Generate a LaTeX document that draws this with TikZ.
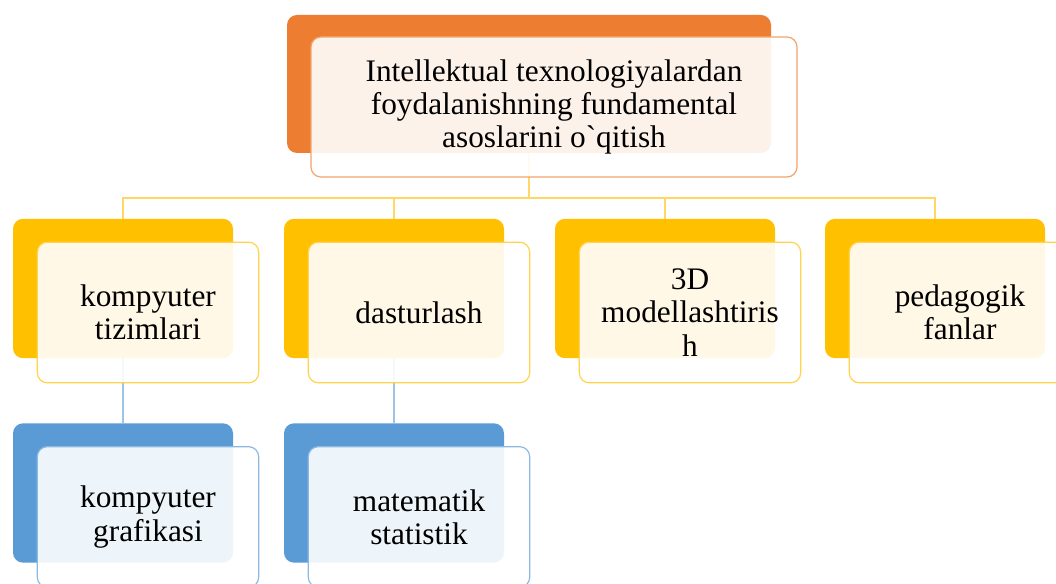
\documentclass[tikz,border=0pt]{standalone}
\usepackage{fontspec}
\setmainfont{Liberation Serif}[Ligatures=TeXOff]
\usetikzlibrary{positioning, calc, backgrounds}
\definecolor{accorange}{RGB}{237, 125, 49}
\definecolor{accyellow}{RGB}{255, 192, 0}
\definecolor{accblue}{RGB}{91, 155, 213}
\definecolor{lineyellow}{RGB}{255, 215, 100}
\definecolor{lineblue}{RGB}{157, 195, 230}

\begin{document}
\begin{tikzpicture}[
  x=0.75pt, y=-0.75pt,
  every node/.style={font=\fontsize{23.5}{25}\selectfont, align=center},
  back/.style={fill=#1, rounded corners=7.5pt, minimum width=165pt, minimum height=104.5pt, inner sep=0pt},
  front/.style={draw=#1!70, fill=white, fill opacity=0.9, text opacity=1, line width=0.9pt, rounded corners=7.5pt, minimum width=166pt, minimum height=105.5pt, inner sep=0pt},
  ylink/.style={draw=lineyellow, line width=1.1pt},
  blink/.style={draw=lineblue, line width=1.1pt}
]
  \useasboundingbox (0,0) rectangle (1056,584);
  \clip (0,0) rectangle (1056,584);

  % top
  \node[back=accorange, minimum width=363pt, minimum height=103.5pt] (topb) at (529,84) {};
  \node[front=accorange, minimum width=364.5pt, minimum height=105pt] (top) at ($(topb)+(25,23)$) {Intellektual texnologiyalardan\\foydalanishning fundamental\\asoslarini o`qitish};

  % second row
  \node[back=accyellow] (compb) at (123,288.5) {};
  \node[front=accyellow] (comp) at ($(compb)+(25,24)$) {kompyuter\\tizimlari};
  \node[back=accyellow] (dastb) at (394,288.5) {};
  \node[front=accyellow] (dast) at ($(dastb)+(25,24)$) {dasturlash};
  \node[back=accyellow] (modelb) at (665,288.5) {};
  \node[front=accyellow] (model) at ($(modelb)+(25,24)$) {3D\\modellashtiris\\h};
  \node[back=accyellow] (pedb) at (935,288.5) {};
  \node[front=accyellow] (ped) at ($(pedb)+(25,24)$) {pedagogik\\fanlar};

  % third row
  \node[back=accblue] (grafb) at (123,493) {};
  \node[front=accblue] (graf) at ($(grafb)+(25,24)$) {kompyuter\\grafikasi};
  \node[back=accblue] (statb) at (394,493) {};
  \node[front=accblue] (stat) at ($(statb)+(25,24)$) {matematik\\statistik};

  \coordinate (bus) at (529,198);

  \begin{scope}[on background layer]
    \fill[white] (0,0) rectangle (1056,584);
    \draw[ylink] (topb.south) -- (bus);
    \draw[ylink] (bus) -| (compb.north);
    \draw[ylink] (bus) -| (dastb.north);
    \draw[ylink] (bus) -| (modelb.north);
    \draw[ylink] (bus) -| (pedb.north);
    \draw[blink] (compb.south) -- (grafb.north);
    \draw[blink] (dastb.south) -- (statb.north);
  \end{scope}

\end{tikzpicture}
\end{document}
